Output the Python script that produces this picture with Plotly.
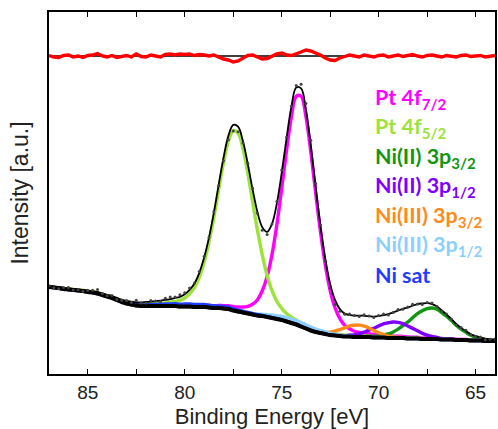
import numpy as np
import plotly.graph_objects as go

# Binding-energy grid of the spectrum (eV), high to low
energy = np.linspace(87.0, 64.0, 93)

# Background under the spectrum, one value per grid point
background = [
    86, 85.5, 85, 84, 83.5, 83, 82.5, 82, 81, 80.5, 79.5, 78, 76.5, 75, 73, 71,
    69.5, 68.5, 67.5, 67, 67, 67, 67, 67, 67, 67, 67, 66.5, 66.5, 66.5, 66, 66,
    66, 65.5, 65, 65, 64.5, 64, 62.5, 61.5, 60.5, 59.5, 58.5, 57.5, 57, 56, 55, 54,
    53, 51.5, 50, 48.5, 46.5, 44.5, 42.5, 41, 40, 39, 38, 37.5, 37, 36.5, 36.5, 36,
    36, 36, 36, 35.5, 35.5, 35.5, 35, 35, 35, 35, 34.5, 34.5, 34.5, 34, 34, 34,
    34, 33.5, 33.5, 33.5, 33, 33, 33, 32.5, 32.5, 32.5, 32, 32, 32,
]

# Residual (measured minus fit envelope), one value per grid point
residual = [
    0.5, -1, -1.5, 0.5, 1, -1, 0, -1.5, 0.5, 1, 2.5, 0, -1, 0.5, -1.5, -0.5,
    0.5, -1, 2, -0.5, -1, 1, 0, -1, 1.5, 2, 1, 2, 1.5, 2, 0.5, 1.5,
    1, 0, 1, -1, -3, -4, -6, -5, -2, 0.5, 1, -1, -3, -2.5, 0, 2,
    3, 1, 0.5, 2, 4, 6, 5, 3, 1, -2, -4, -4.5, -2, -0.5, 1, 0,
    -1, 1, 0, -1, 0.5, 1, -1, 0, 1, -0.5, 0.5, 1.5, 0, -1, 0.5, 1,
    0, -1, 0.5, 0, -1, 0.5, 1, -0.5, 0, 0.5, -1, 0, 0.5,
]
assert len(background) == len(energy) == len(residual)

residual_offset = 317

# Fit components (pseudo-Voigt): label, centre (eV), height, FWHM (eV), Lorentzian fraction, colour
labels = ["Pt 4f<sub>7/2</sub>", "Pt 4f<sub>5/2</sub>", "Ni(II) 3p<sub>3/2</sub>",
          "Ni(II) 3p<sub>1/2</sub>", "Ni(III) 3p<sub>3/2</sub>", "Ni(III) 3p<sub>1/2</sub>",
          "Ni sat"]
centers = [74.1, 77.4, 67.3, 69.2, 71.1, 74.3, 79.5]
heights = [232, 181, 31, 16, 12, 4, 2.5]
fwhms = [2.0, 2.2, 2.5, 2.35, 1.9, 3.2, 5.0]
etas = [0.2, 0.2, 0.1, 0.1, 0.1, 0.0, 0.0]
colors = ["#ff00ff", "#9be33a", "#129612", "#8000ff", "#ff8a1c", "#8ccfff", "#1f3cff"]


def pseudo_voigt(x, c, h, w, eta):
    d2 = (x - c) ** 2
    gauss = np.exp(-4 * np.log(2) * d2 / w ** 2)
    lorentz = 1.0 / (1.0 + 4 * d2 / w ** 2)
    return h * ((1 - eta) * gauss + eta * lorentz)


bg = np.array(background, dtype=float)
peaks = [pseudo_voigt(energy, c, h, w, e) for c, h, w, e in zip(centers, heights, fwhms, etas)]
envelope = bg + np.sum(peaks, axis=0)
measured = envelope + np.array(residual)

fig = go.Figure()

# Individual components, each sitting on the background
for lab, p, col in zip(labels, peaks, colors):
    fig.add_trace(go.Scatter(x=energy, y=bg + p, mode="lines", line=dict(color=col, width=3.4, shape="spline"),
                             name=lab, hoverinfo="skip"))

# Background
fig.add_trace(go.Scatter(x=energy, y=bg, mode="lines", line=dict(color="black", width=4, shape="spline"),
                         hoverinfo="skip"))
# Fit envelope
fig.add_trace(go.Scatter(x=energy, y=envelope, mode="lines", line=dict(color="black", width=1.8, shape="spline"),
                         hoverinfo="skip"))
# Measured points
fig.add_trace(go.Scatter(x=energy, y=measured, mode="markers", marker=dict(color="#444444", size=3),
                         hoverinfo="skip"))

# Residual with zero reference
fig.add_trace(go.Scatter(x=[energy[0], energy[-1]], y=[residual_offset, residual_offset], mode="lines",
                         line=dict(color="black", width=1.4), hoverinfo="skip"))
fig.add_trace(go.Scatter(x=energy, y=residual_offset + np.array(residual), mode="lines",
                         line=dict(color="#ff0000", width=3.4), hoverinfo="skip"))

# Coloured component labels
label_x = 70.3
label_y0 = 275
label_step = 29.5
for i, (lab, col) in enumerate(zip(labels, colors)):
    fig.add_annotation(x=label_x, y=label_y0 - i * label_step, xref="x", yref="y", text="<b>" + lab + "</b>",
                       showarrow=False, xanchor="left", yanchor="middle",
                       font=dict(family="Lato", size=21.5, color=col))

fig.update_layout(
    width=498, height=429,
    margin=dict(l=49, r=1, t=12, b=55),
    paper_bgcolor="white", plot_bgcolor="white",
    showlegend=False,
    font=dict(family="Liberation Sans, Arial", color="#222222"),
)
fig.update_xaxes(
    range=[87, 64], tick0=65, dtick=5, ticks="inside", ticklen=5, tickwidth=1.2, tickcolor="black",
    minor=dict(dtick=2.5, ticks="inside", ticklen=5, tickwidth=1.2, tickcolor="black"),
    showline=True, linecolor="black", linewidth=1.8, mirror="ticks", showgrid=False, zeroline=False,
    tickfont=dict(size=19, color="#222222"),
    title=dict(text="Binding Energy [eV]", font=dict(size=22, color="#222222"), standoff=9),
)
fig.update_yaxes(
    range=[-1, 361], showticklabels=False, ticks="", showline=True, linecolor="black", linewidth=1.8,
    mirror=True, showgrid=False, zeroline=False,
    title=dict(text="Intensity [a.u.]", font=dict(size=23, color="#222222"), standoff=12),
)

fig.write_html("out.html")
